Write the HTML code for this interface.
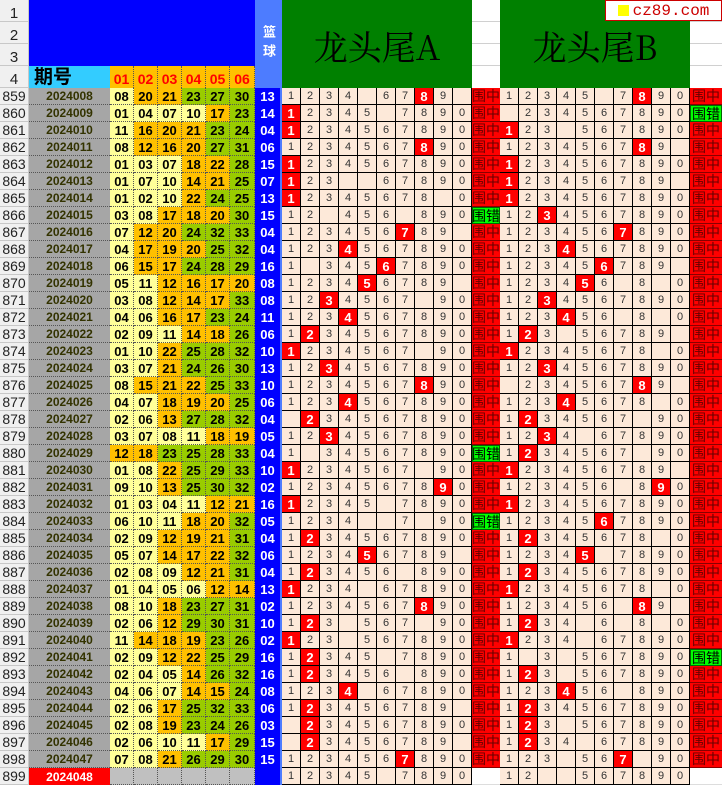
<!DOCTYPE html>
<html><head><meta charset="utf-8">
<style>
*{margin:0;padding:0;box-sizing:border-box}
body{width:722px;height:783px;overflow:hidden;background:#fff;position:relative;font-family:"Liberation Sans","Noto Sans CJK SC",sans-serif}
.c{position:absolute;display:flex;align-items:center;justify-content:center;white-space:nowrap;line-height:1}
</style></head><body>
<div id="r"></div>
<script>
var H='';
function d(x,y,w,h,bg,txt,st){H+='<div class="c" style="left:'+x+'px;top:'+y+'px;width:'+w+'px;height:'+h+'px;background:'+bg+';'+(st||'')+'">'+(txt===undefined?'':txt)+'</div>';}
for(var i=0;i<4;i++){var y=i*22;d(0,y,29,22,'#f0f0f0','<span style="position:relative;top:3px">'+(i+1)+'</span>','font-size:15px;color:#222;border-bottom:1px solid #c8c8c8;border-right:1px solid #c8c8c8');}
d(29,0,226,66,'#0000ff');
d(255,0,27,88,'#4d7cff','<span style="writing-mode:vertical-rl;letter-spacing:6px">篮球</span>','color:#fff;font-size:13px;font-weight:bold');
d(282,0,190,88,'#008000','龙头尾A','font-family:\'Noto Serif CJK SC\',\'Liberation Serif\',serif;font-size:34px;color:#000;padding-top:4px');
d(500,0,190,88,'#008000','龙头尾B','font-family:\'Noto Serif CJK SC\',\'Liberation Serif\',serif;font-size:34px;color:#000;padding-top:4px');
for(var i=1;i<4;i++){d(472,i*22-1,28,1,'#d0d0d0');d(690,i*22-1,32,1,'#d0d0d0');}
d(29,66,81,22,'#33ccff','期号','font-size:19px;font-weight:bold;color:#000;justify-content:flex-start;padding-left:5px');
for(var k=0;k<6;k++)d(110+k*24,66,k==5?25:24,22,'#ffc000','0'+(k+1),'font-size:14px;font-weight:bold;color:#f00;border-right:1px dotted #555;padding-top:3px');
d(605,0,117,21,'#fff','<span style="display:inline-block;width:11px;height:11px;background:#ff0;margin-right:4px"></span>cz89.com','border:1px solid #c00;color:#c00;font-size:16px;font-family:\'Liberation Mono\',monospace');
var L=[
["2024008","08 20 21 23 27 30","13","xxxx.xxHx.","z","xxxxx.xHxx","z"],
["2024009","01 04 07 10 17 23","14","Hxxxx.xxxx","z",".xxxxxxxxx","c"],
["2024010","11 16 20 21 23 24","04","Hxxxxxxxxx","z","Hxx.xxxxxx","z"],
["2024011","08 12 16 20 27 31","06","xxxxxxxHxx","z","xxxxxxxHx.","z"],
["2024012","01 03 07 18 22 28","15","Hxxxxxxxxx","z","Hxxxxxxxxx","z"],
["2024013","01 07 10 14 21 25","07","Hxx..xxxxx","z","Hxxxxxxxx.","z"],
["2024014","01 02 10 22 24 25","13","Hxxxxxxx.x","z","Hxxxxxxxxx","z"],
["2024015","03 08 17 18 20 30","15","xx.xxx.xxx","c","xxHxxxxxxx","z"],
["2024016","07 12 20 24 32 33","04","xxxxxxHxx.","z","xxxxxxHxxx","z"],
["2024017","04 17 19 20 25 32","04","xxxHxxxxxx","z","xxxHxxxxxx","z"],
["2024018","06 15 17 24 28 29","16","x.xxxHxxxx","z","xxxxxHxxx.","z"],
["2024019","05 11 12 16 17 20","08","xxxxHxxxx.","z","xxxxHx.x.x","z"],
["2024020","03 08 12 14 17 33","08","xxHxxxx.xx","z","xxHxxxxxxx","z"],
["2024021","04 06 16 17 23 24","11","xxxHxxxxxx","z","xxxHxx.x.x","z"],
["2024022","02 09 11 14 18 26","06","xHxxxxxxxx","z","xHx.xxxxx.","z"],
["2024023","01 10 22 25 28 32","10","Hxxxxxx.xx","z","Hxxxxxxx.x","z"],
["2024024","03 07 21 24 26 30","13","xxHxxxxxxx","z","xxHxxxxxxx","z"],
["2024025","08 15 21 22 25 33","10","xxxxxxxHxx","z",".xxxxxxHx.","z"],
["2024026","04 07 18 19 20 25","06","xxxHxxxxxx","z","xxxHxxxx.x","z"],
["2024027","02 06 13 27 28 32","04",".Hxxxxxxxx","z","xHxxxxx.xx","z"],
["2024028","03 07 08 11 18 19","05","xxHxxxxxxx","z","xxHx.xxxxx","z"],
["2024029","12 18 23 25 28 33","04","x.xxxxxxxx","c","xHxxxxx.xx","z"],
["2024030","01 08 22 25 29 33","10","Hxxxxxx.xx","z","Hxxxxxxxx.","z"],
["2024031","09 10 13 25 30 32","02","xxxxxxxxHx","z","xxxxxx.xHx","z"],
["2024032","01 03 04 11 12 21","16","Hxxxx.xxxx","z","Hxxxxxxxxx","z"],
["2024033","06 10 11 18 20 32","05","xxxx..x.xx","c","xxxxxHxxxx","z"],
["2024034","02 09 12 19 21 31","04","xHxxxxxxxx","z","xHxxxxxx.x","z"],
["2024035","05 07 14 17 22 32","06","xxxxHxxxx.","z","xxxxH.xxxx","z"],
["2024036","02 08 09 12 21 31","04","xHxxxx.xxx","z","xHxxxxxxxx","z"],
["2024037","01 04 05 06 12 14","13","Hxxx.xxxxx","z","Hxxxxxxx.x","z"],
["2024038","08 10 18 23 27 31","02","xxxxxxxHxx","z","xxxxxx.Hx.","z"],
["2024039","02 06 12 29 30 31","10","xHx.xxx.xx","z","xHxx.x.x.x","z"],
["2024040","11 14 18 19 23 26","02","Hxx.xxxxxx","z","Hxxx.xxxxx","z"],
["2024041","02 09 12 22 25 29","16","xHxxx.xxxx","z","x.x.xxxxxx","c"],
["2024042","02 04 05 14 26 32","16","xHxxxx.xxx","z","xHx.xxxxxx","z"],
["2024043","04 06 07 14 15 24","08","xxxH.xxxxx","z","xxxHxx.xxx","z"],
["2024044","02 06 17 25 32 33","06","xHxxxxxxx.","z","xHxxxxxxxx","z"],
["2024045","02 08 19 23 24 26","03",".Hxxxxxxxx","z","xHx.xxxxxx","z"],
["2024046","02 06 10 11 17 29","15",".Hxxxxxxx.","z","xHxx.xxxxx","z"],
["2024047","07 08 21 26 29 30","15","xxxxxxHxxx","z","xxx.xxH.xx","z"],
["2024048","","","xxxxx.xxxx","","xx..xxxxxx",""]];
var RH=17,Y0=88;
function grid(x0,y,s){for(var j=0;j<10;j++){var ch=s[j],dig=String((j+1)%10),x=x0+j*19;
 if(ch=='H')d(x,y,19,RH,'#ff0000',dig,'color:#fff;font-weight:bold;font-size:13px;border-right:1px solid #000;border-bottom:1px solid #000');
 else d(x,y,19,RH,'#fde9d9',ch=='.'?'':dig,'color:#333;font-size:11px;border-right:1px solid #000;border-bottom:1px solid #000');}}
function st(x,w,y,s){if(s=='z')d(x,y,w,RH,'#ff0000','围中','color:#600;font-size:14px;border-bottom:1px solid #800');
 else if(s=='c')d(x,y,w,RH,'#00ff00','围错','color:#000;font-size:14px;border:1px solid #060');
 else d(x,y,w,RH,'#fff','','border-bottom:1px solid #ddd');}
for(var r=0;r<L.length;r++){var y=Y0+r*RH,R=L[r];
 d(0,y,29,RH,'#f0f0f0',859+r,'font-size:14px;color:#222;border-bottom:1px solid #c8c8c8;border-right:1px solid #c8c8c8');
 if(r==40){d(29,y,81,RH,'#ff0000',R[0],'color:#fff;font-weight:bold;font-size:12px');
  for(var k=0;k<6;k++)d(110+k*24,y,k==5?25:24,RH,'#c0c0c0','','border-right:1px dotted #555;border-bottom:1px dotted #555');}
 else{d(29,y,81,RH,'#a6a6a6',R[0],'color:#333300;font-weight:bold;font-size:12px;border-bottom:1px dotted #555');
  var n=R[1].split(' ');for(var k=0;k<6;k++){var v=+n[k],bg=v<=11?'#ffff99':(v<=22?'#ffc000':'#99cc00');
  d(110+k*24,y,k==5?25:24,RH,bg,n[k],'color:#000;font-weight:bold;font-size:13px;border-right:1px dotted #555;border-bottom:1px dotted #555');}}
 d(255,y,27,RH,'#0000ff',R[2],'color:#fff;font-weight:bold;font-size:13px;border-right:2px solid #4d7cff');
 grid(282,y,R[3]);st(472,28,y,R[4]);grid(500,y,R[5]);st(690,32,y,R[6]);}
document.getElementById('r').innerHTML=H;
</script>
</body></html>
